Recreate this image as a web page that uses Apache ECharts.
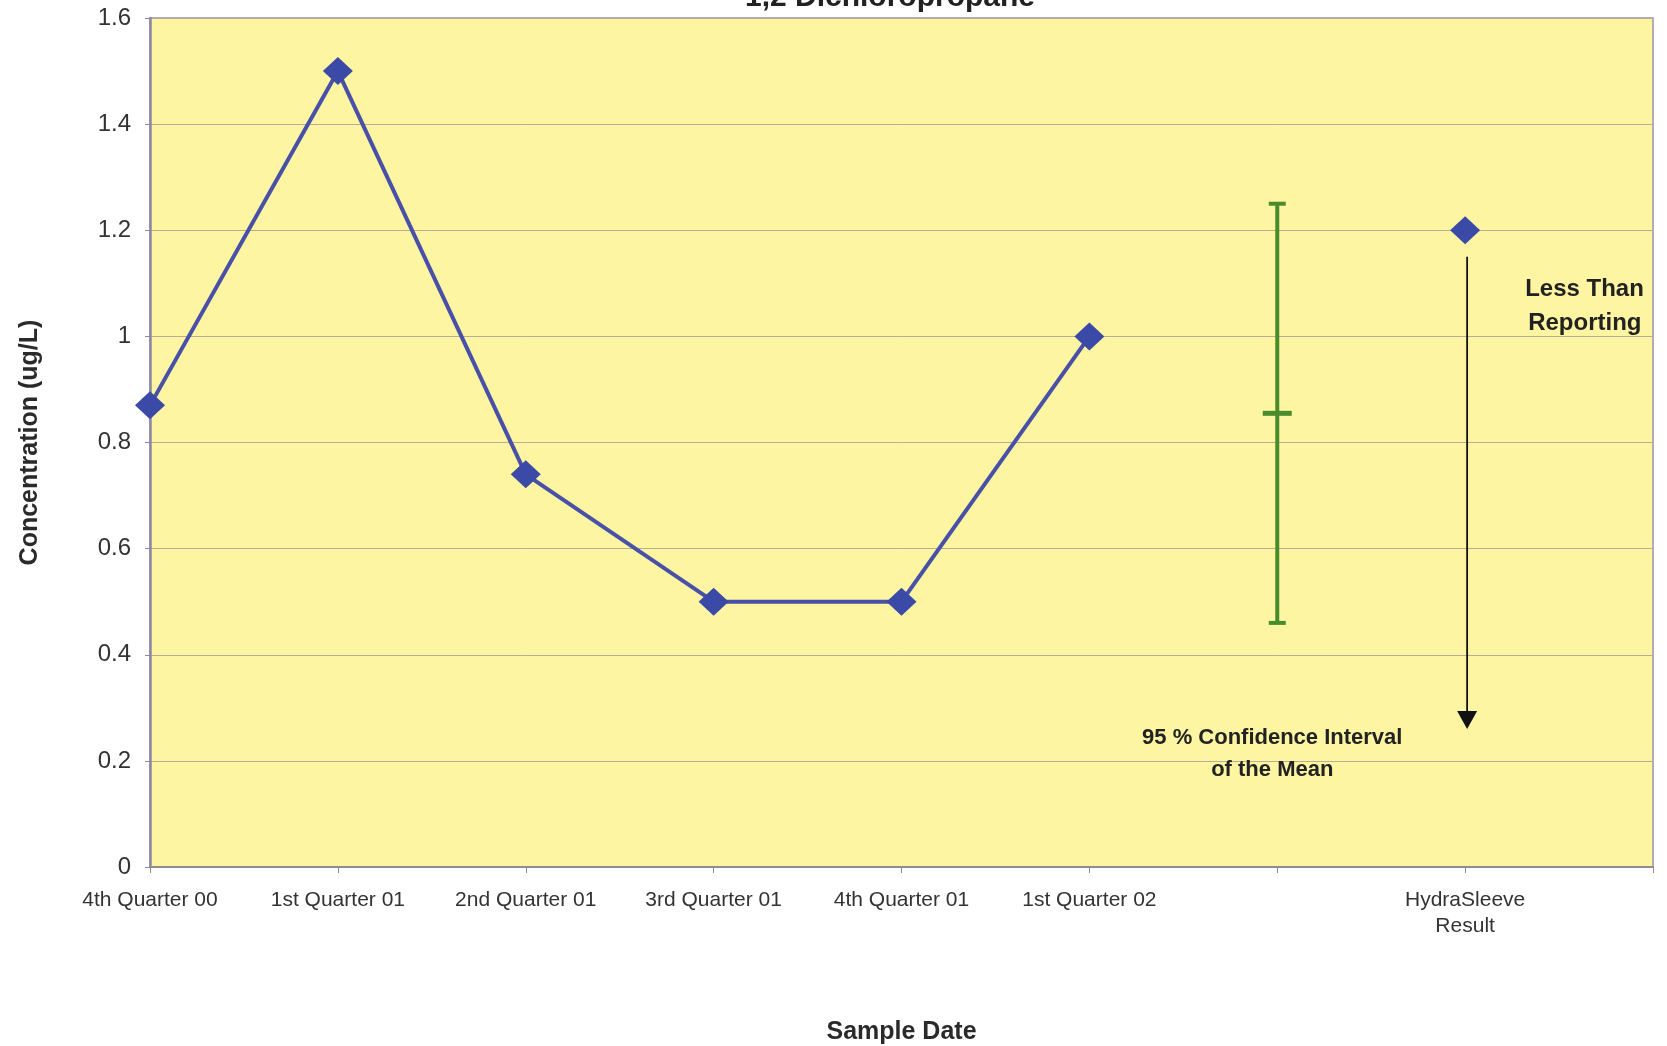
<!DOCTYPE html>
<html>
<head>
<meta charset="utf-8">
<script src="https://cdn.jsdelivr.net/npm/echarts@6/dist/echarts.min.js"></script>
<style>
html,body{margin:0;padding:0;background:#fff;}
#chart{width:1667px;height:1046px;}
</style>
</head>
<body>
<div id="chart"></div>
<script>
// ---- data ----
const categories = ['4th Quarter 00','1st Quarter 01','2nd Quarter 01','3rd Quarter 01','4th Quarter 01','1st Quarter 02','','HydraSleeve\nResult',''];
const concentration = [0.87, 1.5, 0.74, 0.5, 0.5, 1.0];
const hydraSleeveIndex = 7;
const hydraSleeveValue = 1.2;
const ciIndex = 6;
const ciLow = 0.46;
const ciMean = 0.855;
const ciHigh = 1.25;
const arrowFrom = 1.15;
const arrowTo = 0.26;
const yTicks = [0, 0.2, 0.4, 0.6, 0.8, 1, 1.2, 1.4, 1.6];
const titleText = '1,2 Dichloropropane';
const ciLabel = ['95 % Confidence Interval', 'of the Mean'];
const ciLabelValues = [0.243, 0.183];
const noteLabel = ['Less Than', 'Reporting'];
const noteLabelValues = [1.089, 1.024];

const FONT = '"Liberation Sans", Arial, Helvetica, sans-serif';
const chart = echarts.init(document.getElementById('chart'));

const lineData = categories.map((c, i) => i < concentration.length ? concentration[i] : '-');
const hydraData = categories.map((c, i) => i === hydraSleeveIndex ? hydraSleeveValue : '-');

chart.setOption({
  animation: false,
  backgroundColor: '#ffffff',
  graphic: [{
    type: 'text',
    x: 890, y: 13,
    style: {
      text: titleText,
      font: 'bold 30px ' + FONT,
      fill: '#222',
      align: 'center',
      verticalAlign: 'bottom'
    }
  }],
  grid: {
    left: 150, right: 14, top: 18, bottom: 179,
    outerBoundsMode: 'none',
    containLabel: false,
    show: true,
    backgroundColor: '#FDF5A2',
    borderColor: '#9A93A6',
    borderWidth: 1.5
  },
  xAxis: {
    type: 'category',
    data: categories,
    boundaryGap: false,
    name: 'Sample Date',
    nameLocation: 'middle',
    nameGap: 153,
    nameTextStyle: { fontFamily: FONT, fontSize: 25, fontWeight: 'bold', color: '#2a2a2a' },
    axisLine: { show: true, lineStyle: { color: '#8E8E8E', width: 2 } },
    axisTick: { show: true, length: 6, lineStyle: { color: '#8E8E8E' } },
    axisLabel: { fontFamily: FONT, fontSize: 21, color: '#333', margin: 20, lineHeight: 26, interval: 0 },
    splitLine: { show: false }
  },
  yAxis: {
    type: 'value',
    min: 0, max: 1.6, interval: 0.2,
    name: 'Concentration (ug/L)',
    nameLocation: 'middle',
    nameRotate: 90,
    nameGap: 107,
    nameTextStyle: { fontFamily: FONT, fontSize: 25, fontWeight: 'bold', color: '#2a2a2a' },
    axisLine: { show: true, lineStyle: { color: '#8F86A2', width: 2.5 } },
    axisTick: { show: true, length: 5, lineStyle: { color: '#8F86A2' } },
    axisLabel: {
      fontFamily: FONT, fontSize: 24, color: '#333', margin: 19,
      formatter: v => { const t = yTicks.find(k => Math.abs(k - v) < 1e-9); return t === undefined ? '' : String(t); }
    },
    splitLine: { show: true, lineStyle: { color: '#B5AF96', width: 1 } }
  },
  series: [
    {
      type: 'line',
      data: lineData,
      symbol: 'diamond',
      symbolSize: [30, 28],
      lineStyle: { color: '#4850A8', width: 4 },
      itemStyle: { color: '#3B49A7' },
      z: 5
    },
    {
      type: 'line',
      data: hydraData,
      symbol: 'diamond',
      symbolSize: [30, 28],
      lineStyle: { width: 0 },
      itemStyle: { color: '#3B49A7' },
      z: 5
    },
    {
      type: 'custom',
      data: [[ciIndex, ciLow, ciMean, ciHigh]],
      encode: { x: 0, y: [1, 2, 3] },
      z: 4,
      renderItem: function (params, api) {
        const x = api.value(0);
        const lo = api.coord([x, api.value(1)]);
        const mid = api.coord([x, api.value(2)]);
        const hi = api.coord([x, api.value(3)]);
        const st = { stroke: '#4A8C2C', lineWidth: 4 };
        const stMid = { stroke: '#4A8C2C', lineWidth: 5 };
        const children = [
          { type: 'line', shape: { x1: lo[0], y1: lo[1], x2: hi[0], y2: hi[1] }, style: st },
          { type: 'line', shape: { x1: hi[0] - 8.5, y1: hi[1], x2: hi[0] + 8.5, y2: hi[1] }, style: st },
          { type: 'line', shape: { x1: lo[0] - 8.5, y1: lo[1], x2: lo[0] + 8.5, y2: lo[1] }, style: st },
          { type: 'line', shape: { x1: mid[0] - 14.5, y1: mid[1], x2: mid[0] + 14.5, y2: mid[1] }, style: stMid }
        ];
        ciLabel.forEach((t, i) => {
          const p = api.coord([x, ciLabelValues[i]]);
          children.push({ type: 'text', x: p[0] - 5, y: p[1], style: { text: t, font: 'bold 22px ' + FONT, fill: '#222', align: 'center', verticalAlign: 'middle' } });
        });
        return { type: 'group', children: children };
      }
    },
    {
      type: 'custom',
      data: [[hydraSleeveIndex, arrowFrom, arrowTo]],
      encode: { x: 0, y: [1, 2] },
      z: 4,
      renderItem: function (params, api) {
        const x = api.value(0);
        const a = api.coord([x, api.value(1)]);
        const b = api.coord([x, api.value(2)]);
        const ax = a[0] + 2;
        const headH = 18, headW = 10;
        const children = [
          { type: 'line', shape: { x1: ax, y1: a[1], x2: ax, y2: b[1] - headH + 2 }, style: { stroke: '#111', lineWidth: 1.8 } },
          { type: 'polygon', shape: { points: [[ax - headW, b[1] - headH], [ax + headW, b[1] - headH], [ax, b[1]]] }, style: { fill: '#111' } }
        ];
        noteLabel.forEach((t, i) => {
          const p = api.coord([x, noteLabelValues[i]]);
          children.push({ type: 'text', x: p[0] + 60 + (i === 1 ? 3 : 0), y: p[1], style: { text: t, font: 'bold 24px ' + FONT, fill: '#222', align: 'left', verticalAlign: 'middle' } });
        });
        return { type: 'group', children: children };
      }
    }
  ]
});
</script>
</body>
</html>
